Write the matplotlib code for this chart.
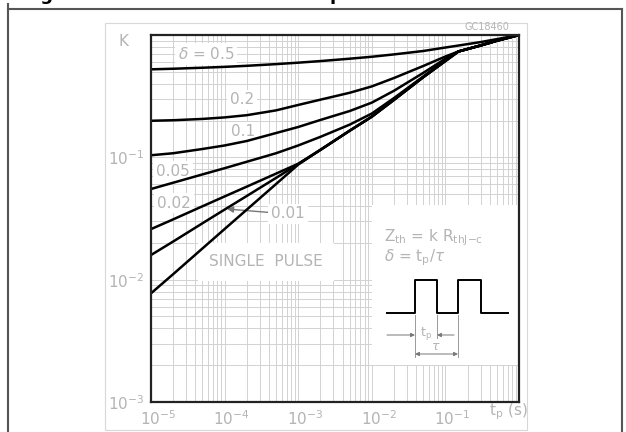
import numpy as np
import matplotlib.pyplot as plt
import matplotlib.transforms as mtransforms
from matplotlib.patches import Rectangle
from matplotlib.lines import Line2D

W, H = 626, 432
GRAY = '#b4b4b4'
GRID = '#d2d2d2'

# pulse duration t_p (s) where the curves were read
t_pts = [1e-5, 2e-5, 5e-5, 1e-4, 2e-4, 5e-4, 1e-3, 2e-3, 5e-3, 1e-2,
         2e-2, 5e-2, 0.1, 0.15, 0.3, 0.5, 1.0]

# normalized thermal impedance K for each duty cycle
k_d05 = [0.524, 0.530, 0.540, 0.549, 0.560, 0.578, 0.594, 0.612, 0.640, 0.664,
         0.694, 0.740, 0.790, 0.820, 0.875, 0.925, 1.0]
k_d02 = [0.199, 0.201, 0.206, 0.212, 0.221, 0.242, 0.268, 0.296, 0.337, 0.380,
         0.445, 0.558, 0.667, 0.733, 0.821, 0.898, 1.0]
k_d01 = [0.104, 0.108, 0.117, 0.125, 0.136, 0.158, 0.177, 0.202, 0.239, 0.280,
         0.350, 0.490, 0.640, 0.733, 0.821, 0.898, 1.0]
k_d005 = [0.0551, 0.0620, 0.0725, 0.0815, 0.0920, 0.108, 0.125, 0.147, 0.185, 0.228,
          0.305, 0.458, 0.625, 0.733, 0.821, 0.898, 1.0]
k_d002 = [0.0259, 0.0311, 0.0398, 0.0479, 0.0576, 0.0736, 0.0886, 0.115, 0.165, 0.215,
          0.295, 0.452, 0.613, 0.733, 0.821, 0.898, 1.0]
k_d001 = [0.0159, 0.0205, 0.0289, 0.0374, 0.0483, 0.0679, 0.0881, 0.115, 0.165, 0.215,
          0.295, 0.452, 0.613, 0.733, 0.821, 0.898, 1.0]
k_single = [0.00773, 0.01109, 0.01799, 0.02594, 0.03735, 0.0605, 0.0872, 0.115, 0.165, 0.215,
            0.295, 0.452, 0.613, 0.733, 0.821, 0.898, 1.0]

curves = [k_d05, k_d02, k_d01, k_d005, k_d002, k_d001, k_single]

x_ticks = [1e-5, 1e-4, 1e-3, 1e-2, 1e-1]
x_ticklabels = ['$10^{-5}$', '$10^{-4}$', '$10^{-3}$', '$10^{-2}$', '$10^{-1}$']
y_ticks = [1e-3, 1e-2, 1e-1]
y_ticklabels = ['$10^{-3}$', '$10^{-2}$', '$10^{-1}$']


def axp(px, py):
    # pixel position in the picture -> axes fraction
    return (px - 151) / 368, (402 - py) / 367


fig = plt.figure(figsize=(W / 100, H / 100), dpi=100)
ax = fig.add_axes([151 / W, 30 / H, 368 / W, 367 / H])

for k in curves:
    ax.plot(t_pts, k, color='black', lw=1.8, zorder=3, solid_joinstyle='round')

ax.set_xscale('log')
ax.set_yscale('log')
ax.set_xlim(1e-5, 1)
ax.set_ylim(1e-3, 1)
ax.set_axisbelow(True)
ax.grid(True, which='both', color=GRID, lw=0.7)
ax.set_xticks(x_ticks)
ax.set_xticklabels(x_ticklabels)
ax.set_yticks(y_ticks)
ax.set_yticklabels(y_ticklabels)
ax.minorticks_on()
ax.tick_params(which='both', length=0, colors=GRAY, labelsize=11)
ax.tick_params(axis='x', pad=5)
ax.tick_params(axis='y', pad=5)
offset = mtransforms.ScaledTranslation(7 / 100, 0, fig.dpi_scale_trans)
for lab in ax.get_xticklabels():
    lab.set_transform(lab.get_transform() + offset)
for s in ax.spines.values():
    s.set_color('#222222')
    s.set_linewidth(1.6)
    s.set_zorder(5)

# white area behind the formula block
ax.add_patch(Rectangle((1e-2, 0.002), 1 - 1e-2, 0.0407 - 0.002, facecolor='white',
                       edgecolor='none', zorder=1))

box = dict(facecolor='white', edgecolor='none', pad=2)
lab_kw = dict(transform=ax.transAxes, color=GRAY, fontsize=11, ha='center', va='center', zorder=2)
ax.text(*axp(206, 54), r'$\delta$ = 0.5', bbox=box, **lab_kw)
ax.text(*axp(242, 100), '0.2', bbox=box, **lab_kw)
ax.text(*axp(243, 132), '0.1', bbox=box, **lab_kw)
ax.text(*axp(173, 171), '0.05', bbox=box, **lab_kw)
ax.text(*axp(174, 203), '0.02', bbox=box, **lab_kw)
ax.text(*axp(266, 262), 'SINGLE  PULSE', bbox=dict(facecolor='white', edgecolor='none', pad=8), **lab_kw)
ax.annotate('0.01', xy=axp(227, 209), xytext=axp(288, 214), xycoords='axes fraction',
            textcoords='axes fraction', color=GRAY, fontsize=11, ha='center', va='center',
            bbox=box, zorder=2,
            arrowprops=dict(arrowstyle='-|>', color='#777777', lw=1.0, mutation_scale=9,
                            shrinkA=0, shrinkB=0))

ax.text(*axp(123, 41), 'K', transform=ax.transAxes, color=GRAY, fontsize=11,
        ha='center', va='center')
ax.text(*axp(508, 412), r'$\mathregular{t_p}$ (s)', transform=ax.transAxes, color=GRAY,
        fontsize=11, ha='center', va='center', clip_on=False)
fig.text(487 / W, 1 - 27 / H, 'GC18460', color=GRAY, fontsize=7, ha='center', va='center')

# formula block
ax.text(*axp(384, 238), r'Z$_{\mathregular{th}}$ = k R$_{\mathregular{thJ{-}c}}$',
        transform=ax.transAxes, color=GRAY, fontsize=11, ha='left', va='center', zorder=2)
ax.text(*axp(384, 258), r'$\delta$ = t$_{\mathregular{p}}$/$\tau$',
        transform=ax.transAxes, color=GRAY, fontsize=11, ha='left', va='center', zorder=2)

pulse_px = [(387, 313), (415, 313), (415, 280), (437, 280), (437, 313),
            (458, 313), (458, 280), (481, 280), (481, 313), (508, 313)]
px_, py_ = zip(*[axp(a, b) for a, b in pulse_px])
ax.plot(px_, py_, color='black', lw=1.4, transform=ax.transAxes, zorder=3)

dim = dict(color='#999999', lw=0.7, transform=ax.transAxes, zorder=2)
for xv, y2 in [(415, 357), (437, 338), (458, 357)]:
    a0, b0 = axp(xv, 315)
    a1, b1 = axp(xv, y2)
    ax.plot([a0, a1], [b0, b1], **dim)
arr = dict(arrowstyle='-|>', color='#777777', lw=0.7, mutation_scale=6, shrinkA=0, shrinkB=0)
ax.annotate('', xy=axp(415, 335), xytext=axp(387, 335), xycoords='axes fraction',
            textcoords='axes fraction', arrowprops=arr)
ax.annotate('', xy=axp(437, 335), xytext=axp(454, 335), xycoords='axes fraction',
            textcoords='axes fraction', arrowprops=arr)
ax.annotate('', xy=axp(458, 354), xytext=axp(415, 354), xycoords='axes fraction',
            textcoords='axes fraction',
            arrowprops=dict(arrowstyle='<|-|>', color='#777777', lw=0.7, mutation_scale=6,
                            shrinkA=0, shrinkB=0))
ax.text(*axp(426, 334), r'$\mathregular{t_p}$', transform=ax.transAxes, color=GRAY,
        fontsize=9, ha='center', va='center')
ax.text(*axp(436, 346), r'$\tau$', transform=ax.transAxes, color=GRAY,
        fontsize=9, ha='center', va='center')

# light inner frame and dark outer frame
fig.add_artist(Rectangle((105 / W, 2 / H), (527 - 105) / W, (430 - 23) / H,
                         transform=fig.transFigure, fill=False, edgecolor='#d8d8d8', lw=0.8))
fig.add_artist(Line2D([8 / W, 8 / W], [0, 1 - 4 / H], color='#555555', lw=1.5))
fig.add_artist(Line2D([8 / W, 622 / W], [1 - 9 / H, 1 - 9 / H], color='#555555', lw=1.5))
fig.add_artist(Line2D([622 / W, 622 / W], [0, 1 - 9 / H], color='#555555', lw=1.5))

# title cut off at the top edge, only descenders show (as in the reference)
fig.text(22 / W, 1.0, 'Figure 3. Transient thermal impedance', fontsize=13,
         fontweight='bold', ha='left', va='baseline')

fig.savefig('out.png', dpi=100)
